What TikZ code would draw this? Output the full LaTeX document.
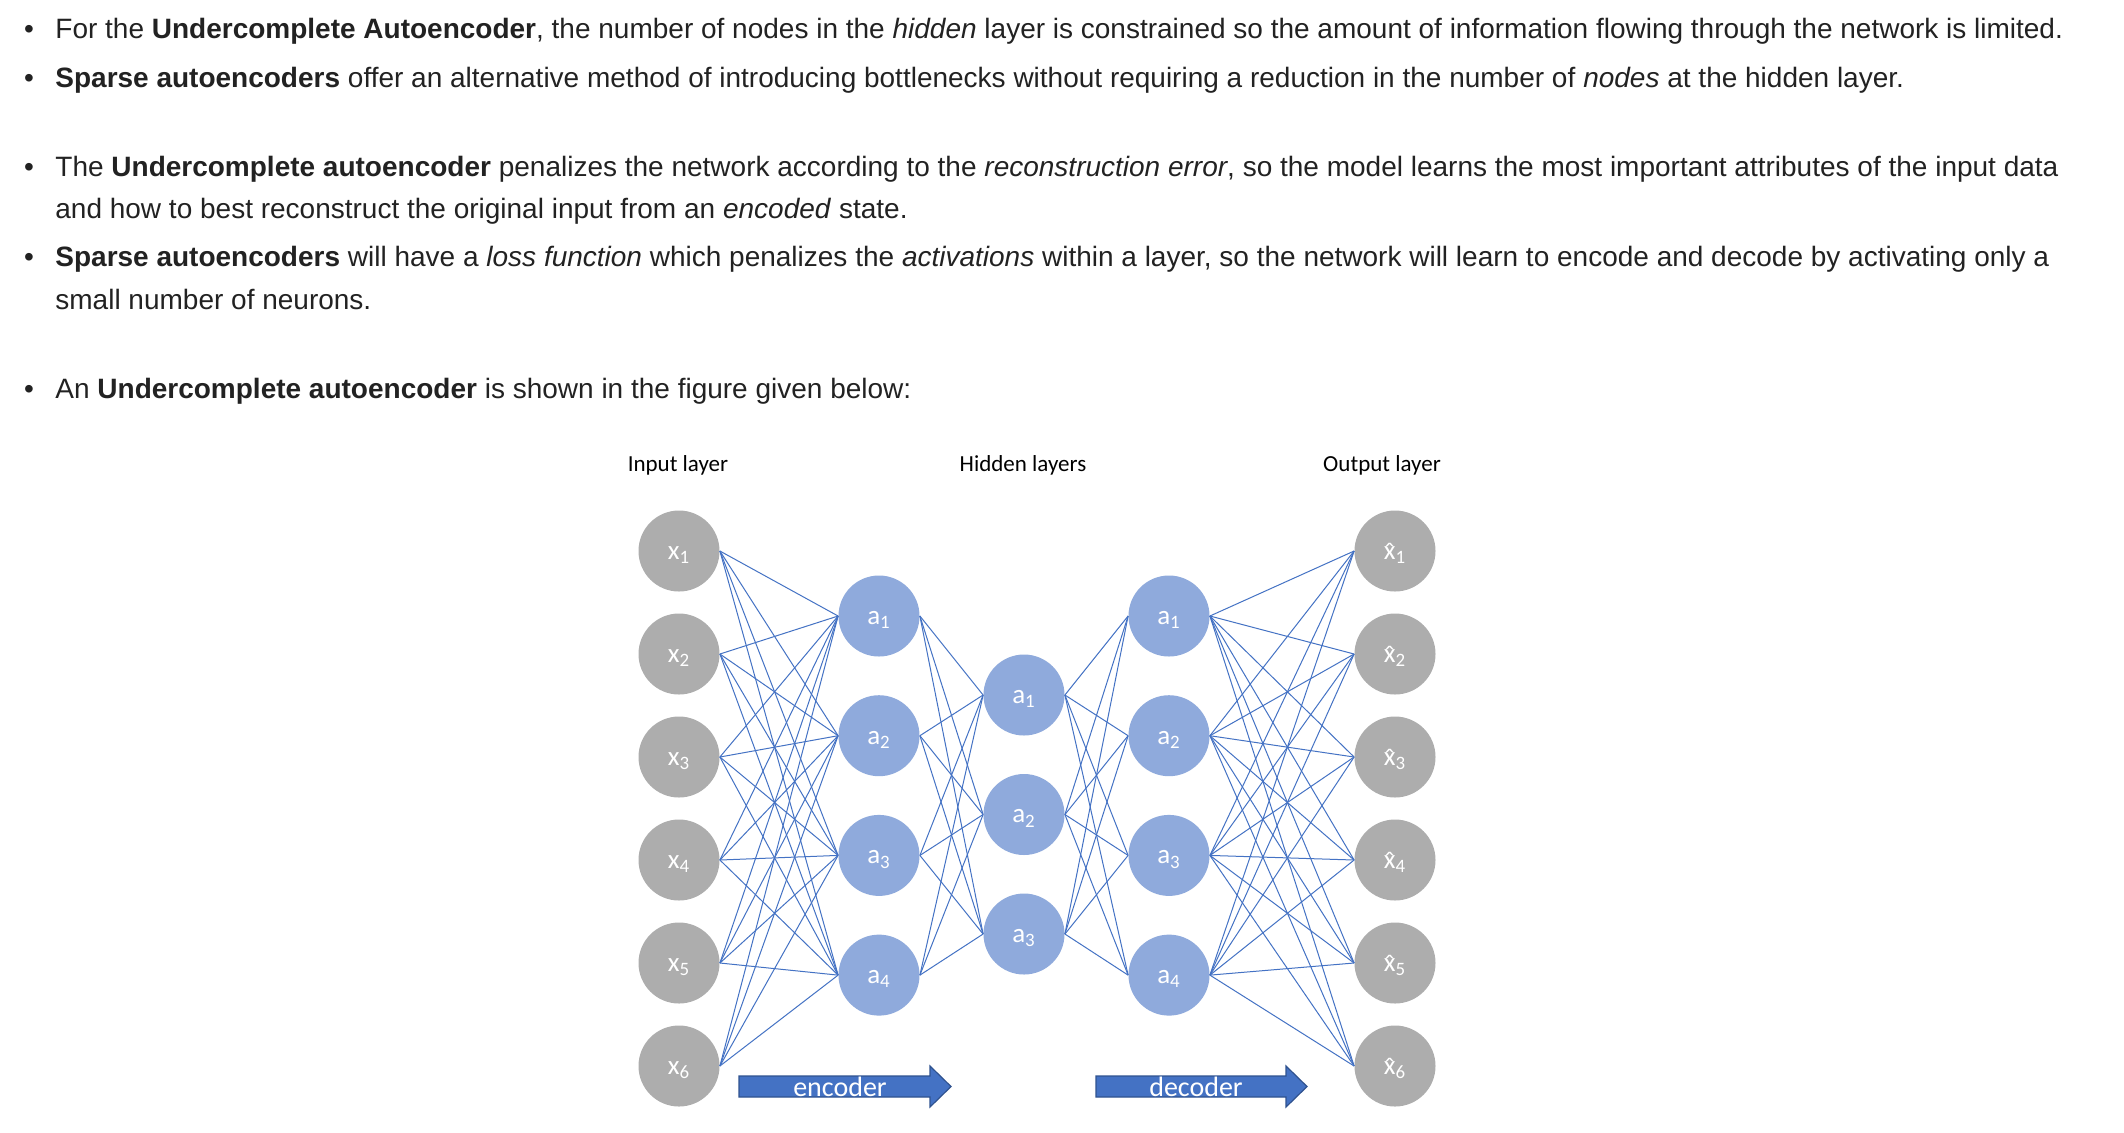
\documentclass[tikz,border=0pt]{standalone}
\usepackage{fontspec}
\setmainfont{Liberation Sans}
\newfontfamily\calibri{Carlito}
\usepackage{xcolor}
\usetikzlibrary{positioning,calc}
\definecolor{txtgray}{HTML}{222222}
\definecolor{nodegray}{HTML}{ADADAD}
\definecolor{nodeblue}{HTML}{8FAADC}
\definecolor{linkblue}{HTML}{4472C4}
\definecolor{arrowedge}{HTML}{2F528F}
\newcommand{\xhat}{\ooalign{x\cr\hidewidth\raisebox{-0.08em}{\char"02C6}\hidewidth\cr}}

\begin{document}
\begin{tikzpicture}[x=0.5pt, y=-0.5pt,
    every node/.style={inner sep=0pt},
    para/.style={anchor=base west, text=txtgray, font=\fontsize{14}{21}\selectfont},
    dot/.style={anchor=base, text=txtgray, font=\fontsize{14}{21}\selectfont},
    layertitle/.style={anchor=base, font=\calibri\fontsize{11.5}{14}\selectfont},
    unit/.style={circle, minimum size=40.5pt, text height=8.3pt, text depth=0pt, text=white, font=\calibri\fontsize{13.5}{16}\selectfont},
    inunit/.style={unit, fill=nodegray},
    hidunit/.style={unit, fill=nodeblue},
    link/.style={draw=linkblue, line width=0.5pt},
    fatarrow/.style={fill=linkblue, draw=arrowedge, line width=0.6pt},
    arrowtext/.style={anchor=base, text=white, font=\calibri\fontsize{14}{16}\selectfont}]
    \useasboundingbox[fill=white] (0,0) rectangle (2124,1132);

    % bullet list
    \foreach \y/\n in {38.3/d1, 87.3/d2, 176.7/d3, 266.7/d4, 398.3/d5}
        \node [dot] (\n) at (29,\y) {\textbullet};
    \node [para] (l1) at (55,38.3) {For the \textbf{Undercomplete Autoencoder}, the number of nodes in the \textit{hidden} layer is constrained so the amount of information flowing through the network is limited.};
    \node [para] (l2) at (55,87.3) {\textbf{Sparse autoencoders} offer an alternative method of introducing bottlenecks without requiring a reduction in the number of \textit{nodes} at the hidden layer.};
    \node [para] (l3) at (55,176.7) {The \textbf{Undercomplete autoencoder} penalizes the network according to the \textit{reconstruction error}, so the model learns the most important attributes of the input data};
    \node [para] (l3b) at (55,218.3) {and how to best reconstruct the original input from an \textit{encoded} state.};
    \node [para] (l4) at (55,266.7) {\textbf{Sparse autoencoders} will have a \textit{loss function} which penalizes the \textit{activations} within a layer, so the network will learn to encode and decode by activating only a};
    \node [para] (l4b) at (55,309.3) {small number of neurons.};
    \node [para] (l5) at (55,398.3) {An \textbf{Undercomplete autoencoder} is shown in the figure given below:};

    % layer titles
    \node [layertitle] (tin) at (678,471) {Input layer};
    \node [layertitle] (thid) at (1023,471) {Hidden layers};
    \node [layertitle] (tout) at (1382,471) {Output layer};

    % units
    \foreach \i in {1,...,6} {
        \node [inunit] (in\i) at (679,{551+103*(\i-1)}) {x\textsubscript{\i}};
        \node [inunit] (out\i) at (1395,{551+103*(\i-1)}) {\xhat\textsubscript{\i}};
    }
    \foreach \i in {1,...,4} {
        \node [hidunit] (enc\i) at (879,{616+119.7*(\i-1)}) {a\textsubscript{\i}};
        \node [hidunit] (dec\i) at (1169,{616+119.7*(\i-1)}) {a\textsubscript{\i}};
    }
    \foreach \i in {1,...,3}
        \node [hidunit] (mid\i) at (1024,{695+119.5*(\i-1)}) {a\textsubscript{\i}};

    % weights
    \foreach \i in {1,...,6}
        \foreach \j in {1,...,4} {
            \draw [link] (in\i.east) -- (enc\j.west);
            \draw [link] (dec\j.east) -- (out\i.west);
        }
    \foreach \i in {1,...,4}
        \foreach \j in {1,...,3} {
            \draw [link] (enc\i.east) -- (mid\j.west);
            \draw [link] (mid\j.east) -- (dec\i.west);
        }

    % encoder / decoder arrows
    \draw [fatarrow] (739,1076) -- (930,1076) -- (930,1066) -- (951,1086.5) -- (930,1107) -- (930,1097) -- (739,1097) -- cycle;
    \draw [fatarrow] (1096,1076) -- (1286,1076) -- (1286,1066) -- (1307,1086.5) -- (1286,1107) -- (1286,1097) -- (1096,1097) -- cycle;
    \node [arrowtext] (encl) at (840,1096) {encoder};
    \node [arrowtext] (decl) at (1196,1096) {decoder};
\end{tikzpicture}
\end{document}
